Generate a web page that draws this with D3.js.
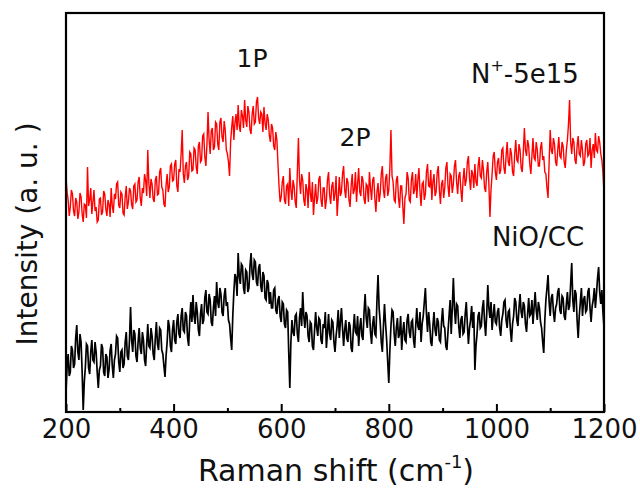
<!DOCTYPE html>
<html>
<head>
<meta charset="utf-8">
<script src="https://cdn.jsdelivr.net/npm/d3@7"></script>
<style>
  html, body { margin: 0; padding: 0; background: #fff; }
  svg { display: block; }
  text { font-family: "DejaVu Sans", Verdana, sans-serif; fill: #111; }
</style>
</head>
<body>
<svg id="chart" width="640" height="488"></svg>
<script>
// Raman shift grid (cm-1): 200 .. 1200, every 2 cm-1
const shiftStart = 200, shiftStep = 2;

// N+-5e15 sample (red), intensity in a.u. (offset trace)
const seriesN5e15 = [
  235,220,212,196,205,222,218,201,196,214,210,193,200,219,215,198,190,208,207,194,
  245,206,212,224,198,210,222,201,205,190,192,213,214,197,200,221,218,203,196,212,
  208,195,224,206,199,218,213,228,230,207,204,220,218,199,197,215,226,203,210,224,
  221,207,203,226,228,210,212,230,235,214,206,224,219,238,232,216,262,229,214,233,
  228,213,210,232,236,217,218,240,244,225,222,208,205,227,238,220,225,246,248,231,
  232,248,252,226,220,243,240,258,282,238,229,246,250,232,236,260,258,241,242,264,
  262,245,238,266,270,250,252,276,278,255,246,268,300,272,258,281,284,262,265,290,
  288,268,262,290,294,275,270,291,282,262,258,250,236,270,285,296,272,289,298,282,
  307,286,280,302,296,284,312,292,285,306,300,282,278,298,306,288,290,310,315,294,
  288,300,298,280,305,289,282,298,292,276,270,288,284,266,262,280,272,248,225,210,
  215,230,236,212,208,226,228,206,244,222,212,232,226,210,204,240,274,232,218,238,
  232,212,206,228,222,204,240,219,210,230,197,214,228,208,214,233,236,212,205,224,
  224,203,212,232,240,217,208,226,230,211,218,236,196,214,235,216,220,238,246,222,
  214,234,230,212,205,226,238,218,222,240,210,228,244,220,216,236,232,213,208,228,
  226,210,240,224,212,232,235,214,200,220,229,210,218,238,246,222,214,234,238,216,
  222,245,282,236,230,212,210,232,236,214,204,226,226,206,188,214,218,240,234,212,
  210,232,240,218,222,238,214,232,244,220,206,228,230,212,218,240,248,226,225,242,
  212,230,238,216,220,240,246,222,208,228,232,214,224,244,250,226,215,238,236,219,
  228,246,252,230,218,236,240,222,210,232,244,226,232,250,256,234,222,242,238,224,
  248,230,226,246,255,236,234,252,242,224,220,240,250,228,195,222,238,256,260,240,
  232,250,254,238,242,262,264,244,238,256,270,250,246,264,258,240,236,258,272,252,
  250,268,262,244,240,260,284,262,256,272,266,248,238,256,274,254,252,270,262,246,
  246,264,270,252,256,240,238,224,214,250,282,262,258,274,268,250,246,262,275,256,
  254,270,266,250,244,262,272,288,312,270,258,274,270,252,248,266,276,258,256,272,
  262,246,250,268,272,256,258,274,244,262,268,254,279,262,260,276,270,258,252,240,
  219
];

// NiO/CC sample (black)
const seriesNiOCC = [
  20,45,58,36,40,66,62,44,48,74,87,60,52,78,70,40,2,30,45,68,
  66,44,38,60,72,52,50,70,60,40,24,42,46,68,64,40,36,58,55,34,
  42,62,68,46,34,52,58,76,74,50,40,60,62,44,48,70,80,56,52,72,
  105,72,60,82,78,56,50,70,84,64,58,80,72,52,46,68,88,66,64,84,
  76,58,52,74,90,68,62,84,82,62,58,46,35,56,70,92,86,66,60,82,
  92,72,68,90,98,78,74,96,104,82,80,100,96,74,66,92,110,90,117,96,
  88,110,100,82,76,98,108,88,92,114,122,100,98,118,112,90,86,104,116,96,
  130,110,104,124,118,100,96,116,124,106,110,92,88,74,62,96,120,138,134,116,
  159,136,128,148,146,124,118,142,140,120,124,146,159,138,132,152,150,130,126,144,
  148,126,120,140,136,114,112,132,128,108,120,104,104,122,124,102,98,112,116,96,
  90,110,108,88,84,102,100,60,24,70,92,80,76,96,98,78,70,94,104,86,
  120,96,84,100,96,76,70,90,88,66,62,82,100,84,76,94,92,72,68,88,
  84,100,64,80,98,78,72,92,90,70,60,76,86,102,74,90,104,84,66,82,
  92,74,70,90,86,64,60,82,98,80,78,96,66,84,94,76,72,100,118,94,
  84,104,102,80,68,88,96,78,76,112,137,104,90,70,60,86,108,88,72,50,
  29,62,86,102,100,78,66,84,94,74,78,96,62,80,90,72,70,92,98,80,
  74,90,92,72,64,86,104,86,82,100,70,88,96,110,124,98,80,100,88,70,
  66,86,100,82,76,94,90,72,70,90,104,86,84,66,62,80,96,112,78,104,
  134,104,88,108,106,86,74,92,96,78,80,98,110,88,68,84,92,106,84,100,
  42,66,78,96,100,84,86,104,112,90,76,98,127,104,94,110,82,96,108,90,
  88,100,104,84,76,92,98,110,112,92,84,100,102,82,70,88,96,114,110,92,
  86,104,118,100,94,110,106,88,80,98,114,96,98,112,88,104,120,102,92,110,
  104,90,84,70,59,92,112,124,137,110,96,114,118,100,90,104,108,120,124,102,
  98,116,114,96,92,108,120,102,106,128,149,112,100,122,118,92,74,96,110,124,
  96,112,116,100,102,120,124,104,90,106,112,124,104,118,134,145,120,108,122,100,
  85
];

const xMajorTicks = [200, 400, 600, 800, 1000, 1200];
const xMinorTicks = [300, 500, 700, 900, 1100];

const seriesList = [
  { name: "N+-5e15", values: seriesN5e15, color: "#ff0000", width: 1.4 },
  { name: "NiO/CC", values: seriesNiOCC, color: "#000000", width: 1.7 }
];

const svg = d3.select("#chart");
const plotLeft = 66, plotRight = 604, plotTop = 13, plotBottom = 412;

const x = d3.scaleLinear().domain([200, 1200]).range([plotLeft, plotRight]);
const y = d3.scaleLinear().domain([0, 399]).range([plotBottom, plotTop]);

svg.append("defs").append("clipPath").attr("id", "plotclip")
  .append("rect").attr("x", plotLeft).attr("y", plotTop)
  .attr("width", plotRight - plotLeft).attr("height", plotBottom - plotTop);

const line = d3.line()
  .x((d, i) => x(shiftStart + i * shiftStep))
  .y(d => y(d));

const g = svg.append("g").attr("clip-path", "url(#plotclip)");
seriesList.forEach(s => {
  g.append("path")
    .datum(s.values)
    .attr("fill", "none")
    .attr("stroke", s.color)
    .attr("stroke-width", s.width)
    .attr("stroke-linejoin", "miter")
    .attr("d", line);
});

// bottom axis with inward ticks
const axisMajor = d3.axisBottom(x).tickValues(xMajorTicks).tickSize(-8).tickPadding(18).tickFormat(d3.format("d"));
const axG = svg.append("g").attr("transform", `translate(0,${plotBottom})`).call(axisMajor);
axG.select(".domain").remove();
axG.selectAll(".tick line").attr("stroke", "#000").attr("stroke-width", 2);
axG.selectAll(".tick text")
  .attr("font-family", "DejaVu Sans, Verdana, sans-serif")
  .attr("font-size", 26).attr("fill", "#111").attr("dy", "0.3em");

const axisMinor = d3.axisBottom(x).tickValues(xMinorTicks).tickSize(-4).tickFormat("");
const axM = svg.append("g").attr("transform", `translate(0,${plotBottom})`).call(axisMinor);
axM.select(".domain").remove();
axM.selectAll(".tick line").attr("stroke", "#000").attr("stroke-width", 2);

// frame
svg.append("rect")
  .attr("x", plotLeft).attr("y", plotTop)
  .attr("width", plotRight - plotLeft).attr("height", plotBottom - plotTop)
  .attr("fill", "none").attr("stroke", "#000").attr("stroke-width", 2.2);

// axis titles
const xt = svg.append("text")
  .attr("x", 336).attr("y", 481)
  .attr("text-anchor", "middle").attr("font-size", 30);
xt.append("tspan").text("Raman shift (cm");
xt.append("tspan").attr("font-size", 18).attr("dy", -13).text("-1");
xt.append("tspan").attr("dy", 13).text(")");

svg.append("text")
  .attr("transform", "translate(37,234) rotate(-90)")
  .attr("text-anchor", "middle").attr("font-size", 28)
  .text("Intensity (a. u. )");

// annotations
svg.append("text").attr("x", 252).attr("y", 67).attr("text-anchor", "middle")
  .attr("font-size", 25).text("1P");
svg.append("text").attr("x", 355).attr("y", 146).attr("text-anchor", "middle")
  .attr("font-size", 25).text("2P");

const nt = svg.append("text").attr("x", 471).attr("y", 83).attr("font-size", 26);
nt.append("tspan").text("N");
nt.append("tspan").attr("font-size", 16).attr("dy", -12).text("+");
nt.append("tspan").attr("dy", 12).text("-5e15");

svg.append("text").attr("x", 538).attr("y", 246).attr("text-anchor", "middle")
  .attr("font-size", 26).text("NiO/CC");
</script>
</body>
</html>
